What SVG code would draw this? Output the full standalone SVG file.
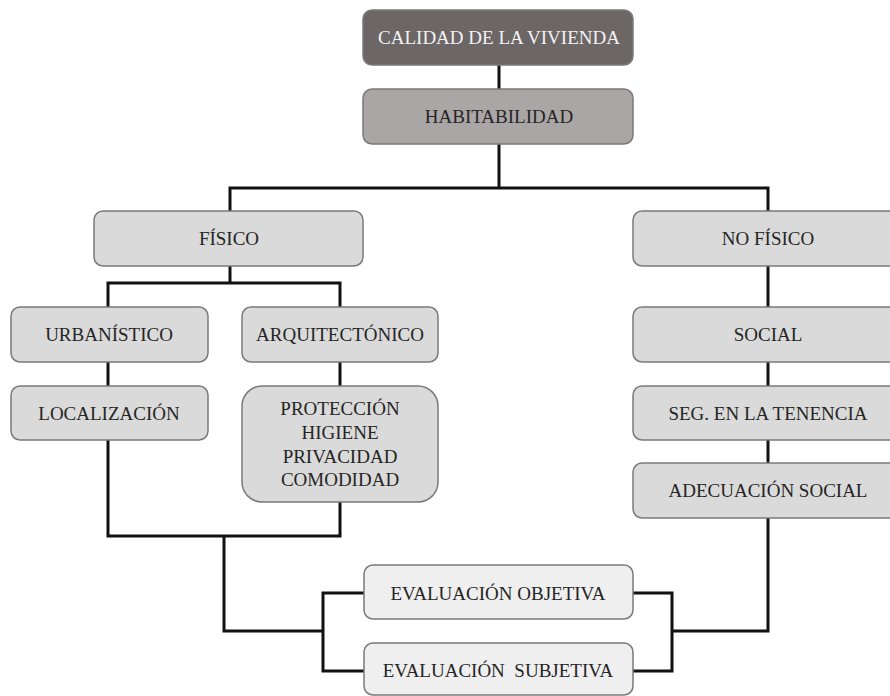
<svg xmlns="http://www.w3.org/2000/svg" width="890" height="696" viewBox="0 0 890 696">
<style>
.box{stroke:#7a7a7a;stroke-width:1.5}
.dark{fill:#6d6666}
.mid{fill:#aba6a6}
.light{fill:#dadada}
.pale{fill:#efefef}
text{font-family:"Liberation Serif","Times New Roman",serif;font-size:19px;text-anchor:middle;fill:#252525}
.w{fill:#f2f2f2}
.conn{fill:none;stroke:#111;stroke-width:3;stroke-linejoin:miter}
</style>
<rect width="890" height="696" fill="#fff"/>
<g id="connectors" class="conn">
<path d="M499 65V89"/>
<path d="M499 144V188"/>
<path d="M230 211V188H768V211"/>
<path d="M230 266V283"/>
<path d="M108 307V283H340V307"/>
<path d="M108 362V386"/>
<path d="M340 362V386"/>
<path d="M768 266V307"/>
<path d="M768 362V386"/>
<path d="M768 440V463"/>
<path d="M108 440V536H340V502"/>
<path d="M224 536V631H323"/>
<path d="M364 593H323V671H364"/>
<path d="M633 593H672V671H633"/>
<path d="M768 518V631H672"/>
</g>
<g id="n-calidad"><rect class="box dark" x="363" y="10" width="270" height="55" rx="9"/><text class="w" x="499" y="44">CALIDAD DE LA VIVIENDA</text></g>
<g id="n-habitabilidad"><rect class="box mid" x="363" y="89" width="270" height="55" rx="9"/><text x="499" y="123">HABITABILIDAD</text></g>
<g id="n-fisico"><rect class="box light" x="94" y="211" width="269" height="55" rx="9"/><text x="229" y="245">FÍSICO</text></g>
<g id="n-nofisico"><rect class="box light" x="633" y="211" width="270" height="55" rx="9"/><text x="768" y="245">NO FÍSICO</text></g>
<g id="n-urbanistico"><rect class="box light" x="11" y="307" width="197" height="55" rx="9"/><text x="109" y="341">URBANÍSTICO</text></g>
<g id="n-arquitectonico"><rect class="box light" x="242" y="307" width="196" height="55" rx="9"/><text x="340" y="341">ARQUITECTÓNICO</text></g>
<g id="n-localizacion"><rect class="box light" x="11" y="386" width="197" height="54" rx="9"/><text x="109" y="420">LOCALIZACIÓN</text></g>
<g id="n-proteccion"><rect class="box light" x="242" y="386" width="196" height="116" rx="20"/>
<text x="340" y="415">PROTECCIÓN</text><text x="340" y="439">HIGIENE</text><text x="340" y="463">PRIVACIDAD</text><text x="340" y="486">COMODIDAD</text></g>
<g id="n-social"><rect class="box light" x="633" y="307" width="270" height="55" rx="9"/><text x="768" y="341">SOCIAL</text></g>
<g id="n-seg"><rect class="box light" x="633" y="386" width="270" height="54" rx="9"/><text x="768" y="420">SEG. EN LA TENENCIA</text></g>
<g id="n-adecuacion"><rect class="box light" x="633" y="463" width="270" height="55" rx="9"/><text x="768" y="497">ADECUACIÓN SOCIAL</text></g>
<g id="n-objetiva"><rect class="box pale" x="364" y="565" width="269" height="54" rx="9"/><text x="498" y="600">EVALUACIÓN OBJETIVA</text></g>
<g id="n-subjetiva"><rect class="box pale" x="364" y="643" width="269" height="52" rx="9"/><text x="498" y="677" xml:space="preserve">EVALUACIÓN  SUBJETIVA</text></g>
</svg>
